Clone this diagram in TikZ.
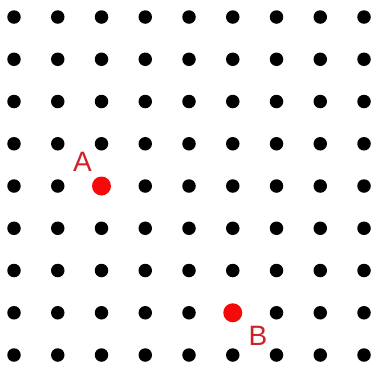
\documentclass[tikz,border=0pt]{standalone}
\usepackage{fontspec}
\setmainfont{Liberation Sans}
\definecolor{dotred}{RGB}{245,10,10}
\definecolor{labred}{RGB}{205,35,40}
\begin{document}
\begin{tikzpicture}[x=1pt,y=-1pt,
  griddot/.style={circle,fill=black,inner sep=0pt,minimum size=13.5pt},
  reddot/.style={circle,fill=dotred,inner sep=0pt,minimum size=19pt},
  lab/.style={text=labred,font=\fontsize{28}{28}\selectfont,inner sep=0pt}]
\useasboundingbox (0,0) rectangle (377,368);
\foreach \i in {0,...,8}{
  \foreach \j in {0,...,8}{
    \node[griddot] (d\i-\j) at ({14+\i*43.75},{17+\j*42.25}) {};
  }
}
\node[reddot] (A) at (d2-4) {};
\node[reddot] (B) at (d5-7) {};
\node[lab] (la) at (82.5,161.5) {A};
\node[lab] (lb) at (258,336) {B};
\end{tikzpicture}
\end{document}
